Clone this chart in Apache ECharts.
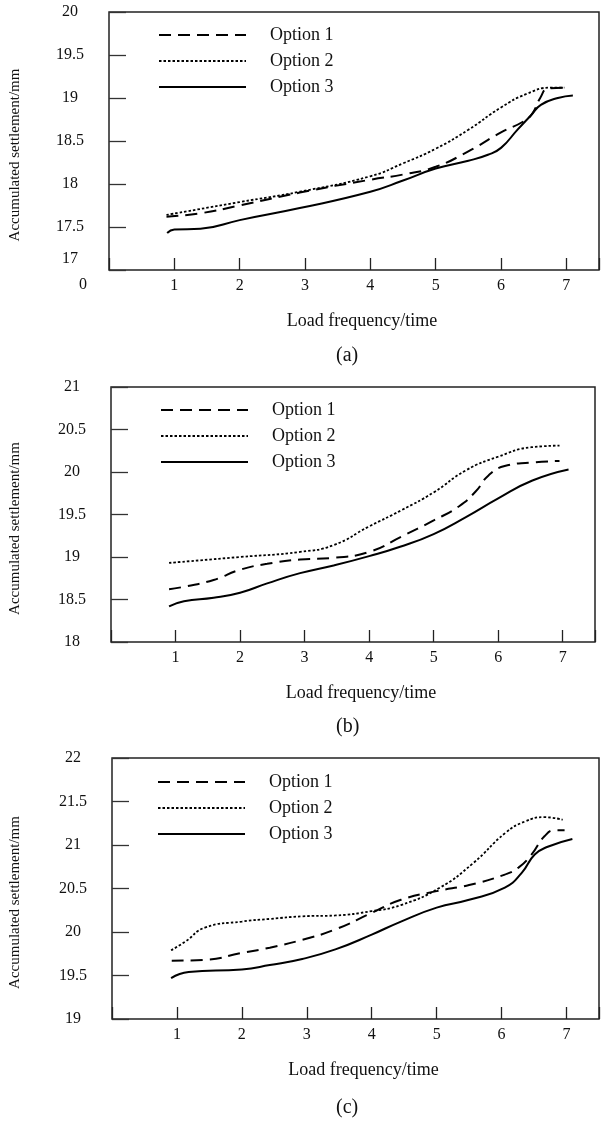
<!DOCTYPE html>
<html>
<head>
<meta charset="utf-8">
<script src="https://cdn.jsdelivr.net/npm/echarts@6/dist/echarts.min.js"></script>
<style>
  html, body { margin: 0; padding: 0; background: #fff; }
  #chart { width: 602px; height: 1129px; }
</style>
</head>
<body>
<div id="chart"></div>
<script>
// names
var names = ['Option 1', 'Option 2', 'Option 3']
var panelTags = ['(a)', '(b)', '(c)']
var xTicks = [1, 2, 3, 4, 5, 6, 7]

// (a)
var a1x = [0.88, 1.4, 2, 2.92, 4, 4.5, 5, 5.5, 6, 6.35, 6.48, 6.6, 6.72, 6.95]
var a1y = [17.62, 17.66, 17.75, 17.90, 18.05, 18.11, 18.2, 18.38, 18.6, 18.73, 18.82, 19.0, 19.11, 19.12]
var a2x = [0.88, 2, 2.92, 4, 4.5, 5, 5.5, 6, 6.4, 6.76, 6.97]
var a2y = [17.64, 17.79, 17.91, 18.09, 18.24, 18.41, 18.63, 18.89, 19.05, 19.12, 19.12]
var a3x = [0.89, 1.0, 1.4, 2, 2.92, 4, 4.5, 5, 5.5, 5.8, 6.0, 6.25, 6.46, 6.61, 6.87, 7.1]
var a3y = [17.43, 17.47, 17.48, 17.58, 17.72, 17.91, 18.04, 18.18, 18.27, 18.34, 18.42, 18.63, 18.80, 18.92, 19.0, 19.03]

// (b)
var b1x = [0.9, 1.13, 1.59, 2, 2.42, 2.93, 3.45, 4, 4.5, 5, 5.4, 5.65, 5.85, 6.1, 6.5, 6.95]
var b1y = [18.62, 18.65, 18.73, 18.85, 18.92, 18.97, 18.99, 19.06, 19.24, 19.43, 19.6, 19.77, 19.96, 20.07, 20.11, 20.13]
var b2x = [0.9, 2, 2.93, 3.45, 4, 4.5, 5, 5.5, 6, 6.5, 6.95]
var b2y = [18.93, 19.0, 19.06, 19.14, 19.36, 19.55, 19.76, 20.02, 20.18, 20.29, 20.31]
var b3x = [0.9, 1.13, 1.59, 2, 2.42, 2.93, 3.45, 4, 4.48, 5, 5.5, 6, 6.53, 7.09]
var b3y = [18.42, 18.48, 18.52, 18.58, 18.69, 18.81, 18.90, 19.01, 19.12, 19.27, 19.47, 19.69, 19.90, 20.03]

// (c)
var c1x = [0.92, 1.43, 2, 2.43, 2.93, 3.44, 4, 4.45, 5, 5.5, 6.05, 6.26, 6.46, 6.66, 6.82, 6.97]
var c1y = [19.67, 19.68, 19.76, 19.82, 19.91, 20.03, 20.22, 20.37, 20.47, 20.54, 20.66, 20.74, 20.89, 21.10, 21.17, 21.17]
var c2x = [0.91, 1.13, 1.43, 2, 2.43, 2.93, 3.44, 4, 4.45, 5.05, 5.56, 6.06, 6.36, 6.66, 6.94]
var c2y = [19.79, 19.89, 20.05, 20.12, 20.15, 20.18, 20.19, 20.24, 20.31, 20.51, 20.79, 21.14, 21.27, 21.32, 21.29]
var c3x = [0.91, 1.18, 2, 2.43, 2.93, 3.44, 4, 4.45, 5, 5.5, 6.05, 6.31, 6.51, 6.71, 7.09]
var c3y = [19.47, 19.54, 19.57, 19.62, 19.69, 19.80, 19.97, 20.12, 20.28, 20.37, 20.51, 20.68, 20.89, 20.98, 21.07]

var yRanges = [[17, 20], [18, 21], [19, 22]]
var panelData = [
    [[a1x, a1y], [a2x, a2y], [a3x, a3y]],
    [[b1x, b1y], [b2x, b2y], [b3x, b3y]],
    [[c1x, c1y], [c2x, c2y], [c3x, c3y]]
]

function zip(xs, ys) {
    return xs.map(function (x, i) { return [x, ys[i]] })
}

var serif = 'Liberation Serif, Times New Roman, serif'
var ink = '#111'
var lineTypes = [[12, 7], [2.5, 2], 'solid']
var lineWidths = [2, 1.8, 2]

// grid boxes
var boxes = [
    { left: 108, top: 12, width: 491, height: 258 },
    { left: 110, top: 387, width: 485, height: 255 },
    { left: 106, top: 758, width: 495, height: 261 }
]
var legendPos = [{ left: 158, top: 26 }, { left: 160, top: 401 }, { left: 157, top: 773 }]
var yNameGap = [86, 88, 89]

var grids = [], xAxes = [], yAxes = [], series = [], legends = []
for (var p = 0; p < 3; p++) {
    grids.push(Object.assign({
        show: true,
        borderColor: '#222',
        borderWidth: 1.5,
        backgroundColor: 'transparent'
    }, boxes[p]))
    xAxes.push({
        type: 'value',
        gridIndex: p,
        min: 0,
        max: 7.5,
        interval: 1,
        name: 'Load frequency/time',
        nameLocation: 'middle',
        nameGap: 42,
        nameTextStyle: { fontFamily: serif, fontSize: 18, color: ink, padding: [0, 0, 0, 16] },
        axisLine: { show: false },
        axisTick: { show: true, inside: true, length: 12, lineStyle: { color: '#222', width: 1.3 } },
        axisLabel: {
            fontFamily: serif, fontSize: 16, color: ink, margin: 8,
            formatter: function (v) { return xTicks.indexOf(v) >= 0 ? String(v) : '' }
        },
        splitLine: { show: false }
    })
    yAxes.push({
        type: 'value',
        gridIndex: p,
        min: yRanges[p][0],
        max: yRanges[p][1],
        interval: 0.5,
        name: 'Accumulated settlement/mm',
        nameLocation: 'middle',
        nameGap: yNameGap[p],
        nameTextStyle: { fontFamily: serif, fontSize: 15, color: ink, padding: [0, 28, 0, 0] },
        axisLine: { show: false },
        axisTick: { show: true, inside: true, length: 17, lineStyle: { color: '#333', width: 1.3 } },
        axisLabel: {
            fontFamily: serif, fontSize: 16, color: ink, margin: 39, align: 'center',
            formatter: (function (lo, pi) {
                return function (v) {
                    if (pi === 0 && v === lo) return '{up|' + v + '}'
                    return String(v)
                }
            })(yRanges[p][0], p),
            rich: { up: { fontFamily: serif, fontSize: 16, color: ink, padding: [0, 0, 22, 0] } }
        },
        splitLine: { show: false }
    })
    for (var s = 0; s < 3; s++) {
        series.push({
            name: names[s],
            type: 'line',
            xAxisIndex: p,
            yAxisIndex: p,
            smooth: 0.5,
            symbol: 'none',
            lineStyle: { color: '#000', width: lineWidths[s], type: lineTypes[s] },
            itemStyle: { color: '#000' },
            data: zip(panelData[p][s][0], panelData[p][s][1])
        })
    }
    legends.push({
        show: true,
        orient: 'vertical',
        left: legendPos[p].left,
        top: legendPos[p].top,
        padding: 0,
        itemGap: 8,
        itemWidth: 87,
        itemHeight: 14,
        itemStyle: { opacity: 0 },
        lineStyle: { inherit: true },
        data: names,
        textStyle: { fontFamily: serif, fontSize: 18, color: ink, lineHeight: 18, padding: [0, 0, 0, 19] }
    })
}

var graphics = [
    { type: 'text', left: 79, top: 277, style: { text: '0', font: '16px ' + serif, fill: ink } }
]
var tagY = [346, 717, 1098]
for (var t = 0; t < 3; t++) {
    graphics.push({
        type: 'text', left: 336, top: tagY[t],
        style: { text: panelTags[t], font: '20px ' + serif, fill: ink }
    })
}

var option = {
    backgroundColor: '#fff',
    animation: false,
    grid: grids,
    xAxis: xAxes,
    yAxis: yAxes,
    legend: legends,
    series: series,
    graphic: graphics
}

var myChart = echarts.init(document.getElementById('chart'))
myChart.setOption(option)
window.addEventListener('resize', function () {
    myChart.resize()
})
</script>
</body>
</html>
